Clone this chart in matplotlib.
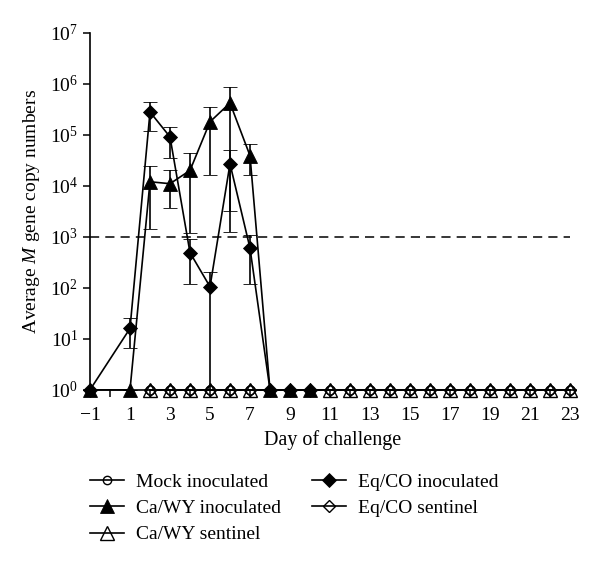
import numpy as np
import matplotlib
matplotlib.use("Agg")
import matplotlib.pyplot as plt
from matplotlib.ticker import LogFormatterMathtext, FixedLocator
from matplotlib.lines import Line2D

plt.rcParams['font.family'] = ['Liberation Serif', 'DejaVu Serif']
plt.rcParams['mathtext.fontset'] = 'custom'
plt.rcParams['mathtext.rm'] = 'Liberation Serif'
plt.rcParams['mathtext.it'] = 'Liberation Serif:italic'

# inoculated groups
days_inoc = [-1, 1, 2, 3, 4, 5, 6, 7, 8, 9, 10]
cawy_inoc = [1, 1, 1.2e4, 1.1e4, 2.0e4, 1.8e5, 4.2e5, 3.9e4, 1, 1, 1]
cawy_hi = [1, 1, 2.5e4, 2.0e4, 4.3e4, 3.5e5, 8.7e5, 6.6e4, 1, 1, 1]
cawy_lo = [1, 1, 1.4e3, 3.7e3, 1.2e3, 1.6e4, 1.25e3, 1.6e4, 1, 1, 1]
eqco_inoc = [1, 16, 2.8e5, 9.1e4, 490, 105, 2.7e4, 600, 1, 1, 1]
eqco_hi = [1, 26, 4.4e5, 1.4e5, 0.9e3, 205, 5.0e4, 1.1e3, 1, 1, 1]
eqco_lo = [1, 6.7, 1.2e5, 3.5e4, 120, 1, 3.2e3, 120, 1, 1, 1]

# mock and sentinels (all below detection)
days_sent = [2, 3, 4, 5, 6, 7, 11, 12, 13, 14, 15, 16, 17, 18, 19, 20, 21, 22, 23]
mock = [1] * len(days_sent)
cawy_sent = [1] * len(days_sent)
eqco_sent = [1] * len(days_sent)

threshold = 1e3
xticklabels = [-1, 1, 3, 5, 7, 9, 11, 13, 15, 17, 19, 21, 23]

fig = plt.figure(figsize=(6.0, 5.65), dpi=100)
ax = fig.add_axes([0.15, 0.31, 0.81, 0.632])

lw = 1.2
ax.plot(days_sent, mock, '-', color='black', lw=lw, marker='o', ms=6.5,
        mfc='none', mec='black', mew=1.0, clip_on=False, zorder=3)
ax.plot(days_sent, cawy_sent, '-', color='black', lw=lw, marker='^', ms=9.5,
        mfc='none', mec='black', mew=1.0, clip_on=False, zorder=3)
ax.plot(days_sent, eqco_sent, '-', color='black', lw=lw, marker='D', ms=6.4,
        mfc='none', mec='black', mew=1.0, clip_on=False, zorder=3)

cawy_inoc = np.array(cawy_inoc)
eqco_inoc = np.array(eqco_inoc)
ax.errorbar(days_inoc, cawy_inoc,
            yerr=[cawy_inoc - np.array(cawy_lo), np.array(cawy_hi) - cawy_inoc],
            fmt='-', color='black', lw=lw, elinewidth=lw, capsize=5, capthick=lw,
            marker='^', ms=9.8, mfc='black', mec='black', mew=0.6, clip_on=False, zorder=4)
ax.errorbar(days_inoc, eqco_inoc,
            yerr=[eqco_inoc - np.array(eqco_lo), np.array(eqco_hi) - eqco_inoc],
            fmt='-', color='black', lw=lw, elinewidth=lw, capsize=5, capthick=lw,
            marker='D', ms=6.8, mfc='black', mec='black', mew=0.6, clip_on=False, zorder=4)

ax.hlines(threshold, -1, 23, color='black', lw=1.1, linestyles=[(0, (6, 4))], zorder=2)

ax.set_yscale('log')
ax.set_ylim(1, 1e7)
ax.set_xlim(-1, 23.3)
ax.yaxis.set_major_locator(FixedLocator([10.0 ** k for k in range(8)]))
ax.yaxis.set_major_formatter(LogFormatterMathtext())
ax.yaxis.set_minor_locator(FixedLocator([]))
ax.set_xticks(xticklabels)
ax.set_xticks(range(0, 23, 2), minor=True)
ax.tick_params(axis='both', which='both', direction='out', length=5, width=1.1,
               labelsize=14)
ax.tick_params(axis='x', pad=7)
ax.tick_params(axis='y', pad=3.5)

for s in ['top', 'right']:
    ax.spines[s].set_visible(False)
for s in ['left', 'bottom']:
    ax.spines[s].set_linewidth(1.2)

ax.set_xlabel('Day of challenge', fontsize=14.5, labelpad=5)
ax.set_ylabel('Average $\\mathit{M}$ gene copy numbers', fontsize=14, labelpad=6)

h_mock = Line2D([], [], color='black', lw=lw, marker='o', ms=6, mfc='none', mec='black')
h_cawy = Line2D([], [], color='black', lw=lw, marker='^', ms=9.8, mfc='black', mec='black', mew=0.6)
h_cawys = Line2D([], [], color='black', lw=lw, marker='^', ms=9.5, mfc='none', mec='black')
h_eqco = Line2D([], [], color='black', lw=lw, marker='D', ms=6.8, mfc='black', mec='black', mew=0.6)
h_eqcos = Line2D([], [], color='black', lw=lw, marker='D', ms=6.4, mfc='none', mec='black')
fig.legend([h_mock, h_cawy, h_cawys, h_eqco, h_eqcos],
           ['Mock inoculated', 'Ca/WY inoculated', 'Ca/WY sentinel',
            'Eq/CO inoculated', 'Eq/CO sentinel'],
           loc='upper left', bbox_to_anchor=(0.134, 0.18), ncol=2, frameon=False,
           fontsize=14, handlelength=1.75, handletextpad=0.6, columnspacing=1.6,
           labelspacing=0.45, borderpad=0)

fig.savefig('out.png', dpi=100)
